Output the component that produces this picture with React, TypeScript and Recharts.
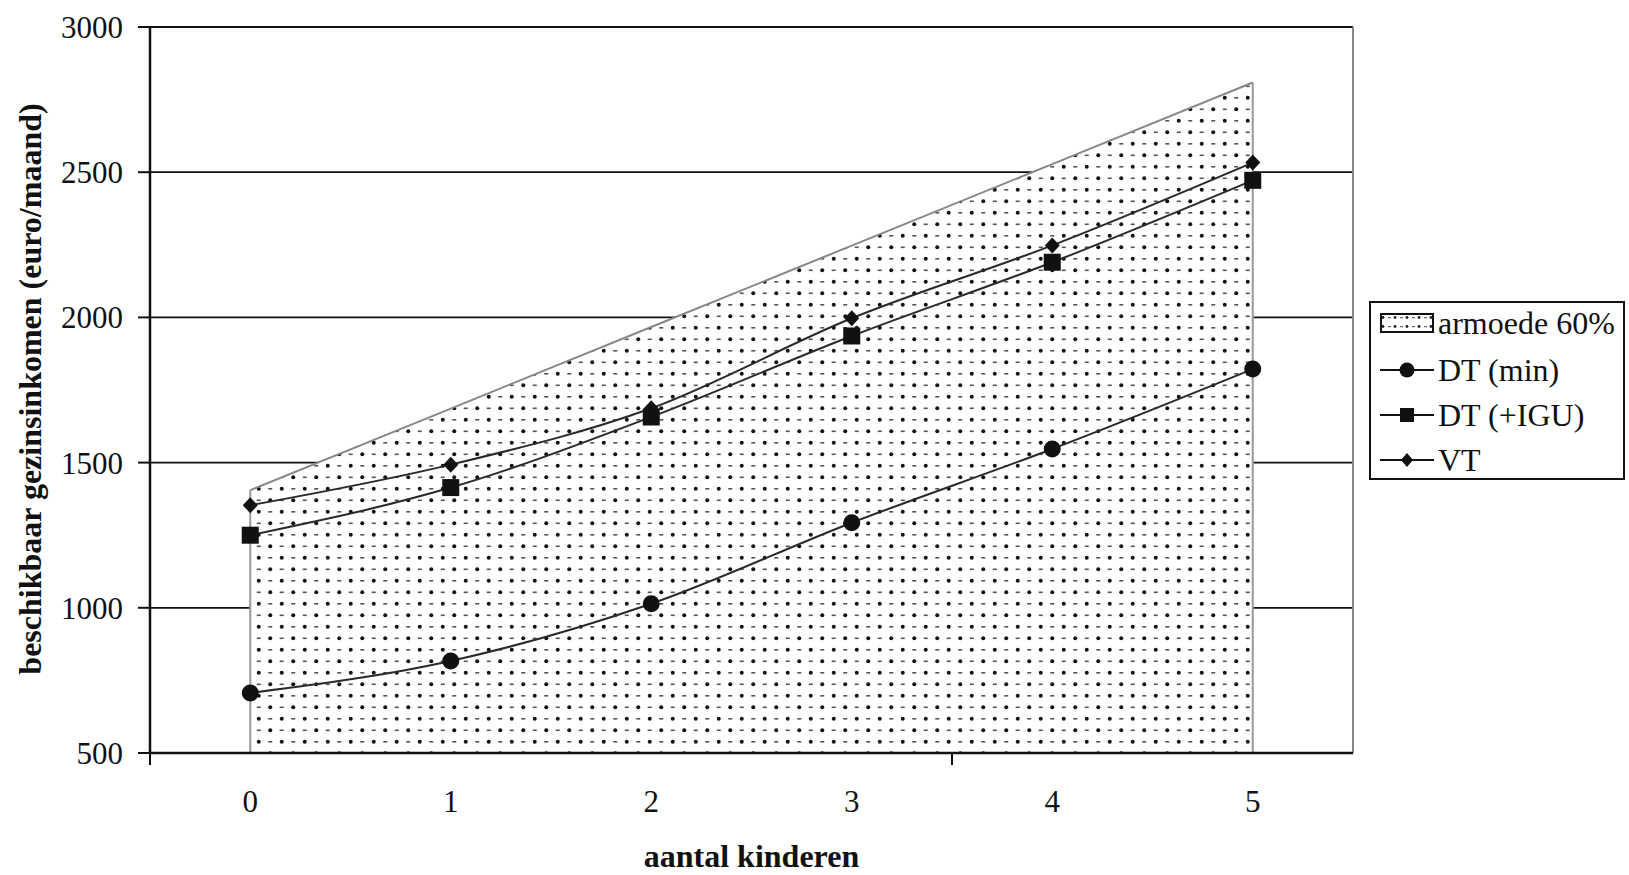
import React from 'react';
import { ComposedChart, Line, Area, XAxis, YAxis, CartesianGrid, ReferenceLine, Label } from 'recharts';

const kinderen = [0, 1, 2, 3, 4, 5];
const armoede60 = [1405, 1686, 1967, 2247, 2528, 2809];
const dtMin = [707, 817, 1014, 1293, 1547, 1822];
const dtIgu = [1250, 1414, 1657, 1936, 2190, 2472];
const vt = [1353, 1493, 1687, 1997, 2248, 2533];
const yTicks = [500, 1000, 1500, 2000, 2500, 3000];
const xDomain = [-0.5, 5.5];
const xTickMarks = [-0.5, 3.5];
const seriesNames = ['armoede 60%', 'DT (min)', 'DT (+IGU)', 'VT'];
const xTitle = 'aantal kinderen';
const yTitle = 'beschikbaar gezinsinkomen (euro/maand)';

const data = kinderen.map((k, i) => ({
  k,
  armoede: armoede60[i],
  dtMin: dtMin[i],
  dtIgu: dtIgu[i],
  vt: vt[i],
}));

const FONT = '"Liberation Serif", "Times New Roman", serif';
const LINE = '#2a2a2a';

const XTick = (props: any) => {
  const { x, y, payload } = props;
  const v = payload.value;
  if (xTickMarks.includes(v)) {
    return <line x1={x} x2={x} y1={y} y2={y + 12} stroke="#111" strokeWidth={2} />;
  }
  return (
    <text x={x} y={y + 59} textAnchor="middle" fontFamily={FONT} fontSize={31} fill="#111">
      {v}
    </text>
  );
};

const CircleDot = (props: any) => {
  const { cx, cy } = props;
  if (cx == null || cy == null) return null;
  return <circle cx={cx} cy={cy} r={8.5} fill="#111" />;
};
const SquareDot = (props: any) => {
  const { cx, cy } = props;
  if (cx == null || cy == null) return null;
  return <rect x={cx - 8.5} y={cy - 8.5} width={17} height={17} fill="#111" />;
};
const DiamondDot = (props: any) => {
  const { cx, cy } = props;
  if (cx == null || cy == null) return null;
  return <polygon points={`${cx},${cy - 8} ${cx + 7.5},${cy} ${cx},${cy + 8} ${cx - 7.5},${cy}`} fill="#111" />;
};

const DotPattern = ({ id }: { id: string }) => (
  <pattern id={id} patternUnits="userSpaceOnUse" width={23} height={23}>
    <rect x={0} y={0} width={23} height={23} fill="#fff" />
    <circle cx={5.75} cy={5.75} r={2} fill="#111" />
    <circle cx={17.25} cy={17.25} r={2} fill="#111" />
    <rect x={15.25} y={5} width={4} height={1.6} fill="#555" />
    <rect x={3.75} y={16.5} width={4} height={1.6} fill="#555" />
  </pattern>
);

const YTitle = (props: any) => {
  const vb = props.viewBox || { x: 0, y: 27, width: 150, height: 726 };
  const cx = vb.x + 41;
  const cy = vb.y + vb.height / 2 - 1;
  return (
    <text x={cx} y={cy} transform={`rotate(-90, ${cx}, ${cy})`} textAnchor="middle" fontFamily={FONT} fontWeight="bold" fontSize={32} fill="#111">
      {yTitle}
    </text>
  );
};

const XTitle = (props: any) => {
  const vb = props.viewBox || { x: 150, y: 753, width: 1203, height: 122 };
  return (
    <text x={vb.x + vb.width / 2} y={vb.y + 114} textAnchor="middle" fontFamily={FONT} fontWeight="bold" fontSize={32} fill="#111">
      {xTitle}
    </text>
  );
};

const legendMarkers = [null, 'circle', 'square', 'diamond'];
const legendCenters = [20, 67, 112, 157];

const LegendIcon = ({ kind }: { kind: string | null }) => {
  if (kind === null) {
    return (
      <svg width={54} height={20} style={{ position: 'absolute', left: 0, top: -10 }}>
        <defs>
          <pattern id="legdots" patternUnits="userSpaceOnUse" width={12} height={9}>
            <rect width={12} height={9} fill="#fff" />
            <circle cx={3} cy={4.5} r={1.4} fill="#222" />
            <rect x={8} y={4} width={3} height={1.2} fill="#666" />
          </pattern>
        </defs>
        <rect x={1} y={1} width={52} height={18} fill="url(#legdots)" stroke="#111" strokeWidth={2} />
      </svg>
    );
  }
  return (
    <svg width={54} height={20} style={{ position: 'absolute', left: 0, top: -10 }}>
      <line x1={0} x2={54} y1={10} y2={10} stroke="#111" strokeWidth={2} />
      {kind === 'circle' && <circle cx={27} cy={10} r={7.5} fill="#111" />}
      {kind === 'square' && <rect x={20} y={3} width={14} height={14} fill="#111" />}
      {kind === 'diamond' && <polygon points="27,3 33,10 27,17 21,10" fill="#111" />}
    </svg>
  );
};

const LegendBox = () => (
  <div
    style={{
      position: 'absolute',
      left: 1369,
      top: 301,
      width: 256,
      height: 179,
      border: '2px solid #111',
      boxSizing: 'border-box',
      background: '#fff',
      fontFamily: FONT,
      fontSize: 32,
      color: '#111',
    }}
  >
    {seriesNames.map((name, i) => (
      <div key={name} style={{ position: 'absolute', left: 9, top: legendCenters[i], height: 0 }}>
        <LegendIcon kind={legendMarkers[i]} />
        <div style={{ position: 'absolute', left: 58, top: -20, height: 40, lineHeight: '40px', whiteSpace: 'nowrap' }}>{name}</div>
      </div>
    ))}
  </div>
);

export default function App() {
  return (
    <div style={{ position: 'absolute', left: 0, top: 0, width: 1629, height: 875, background: '#fff' }}>
      <ComposedChart width={1629} height={875} data={data} margin={{ top: 27, right: 276, bottom: 0, left: 0 }}>
        <defs>
          <DotPattern id="dots" />
        </defs>
        <CartesianGrid vertical={false} stroke="#111" strokeWidth={1.8} />
        <XAxis
          dataKey="k"
          type="number"
          domain={xDomain}
          ticks={[...xTickMarks, ...kinderen]}
          allowDataOverflow
          height={122}
          tickSize={0}
          tickMargin={0}
          tickLine={false}
          axisLine={{ stroke: '#111', strokeWidth: 2.5 }}
          tick={<XTick />}
          interval={0}
        >
          <Label content={<XTitle />} />
        </XAxis>
        <YAxis
          type="number"
          domain={[yTicks[0], yTicks[yTicks.length - 1]]}
          ticks={yTicks}
          width={150}
          tickSize={12}
          tickMargin={15}
          interval={0}
          axisLine={{ stroke: '#111', strokeWidth: 2.5 }}
          tickLine={{ stroke: '#111', strokeWidth: 2 }}
          tick={{ fill: '#111', fontSize: 31, fontFamily: FONT }}
        >
          <Label content={<YTitle />} />
        </YAxis>
        <ReferenceLine x={xDomain[1]} stroke="#888" strokeWidth={2} />
        <Area
          type="linear"
          dataKey="armoede"
          baseValue={yTicks[0]}
          fill="url(#dots)"
          fillOpacity={1}
          stroke="#888"
          strokeWidth={2}
          isAnimationActive={false}
          dot={false}
          activeDot={false}
        />
        <ReferenceLine
          segment={[{ x: kinderen[0], y: yTicks[0] }, { x: kinderen[0], y: armoede60[0] }]}
          stroke="#999"
          strokeWidth={2}
        />
        <ReferenceLine
          segment={[{ x: kinderen[kinderen.length - 1], y: yTicks[0] }, { x: kinderen[kinderen.length - 1], y: armoede60[armoede60.length - 1] }]}
          stroke="#999"
          strokeWidth={2}
        />
        <Line type="monotone" dataKey="dtMin" stroke={LINE} strokeWidth={2} dot={<CircleDot />} activeDot={false} isAnimationActive={false} />
        <Line type="monotone" dataKey="dtIgu" stroke={LINE} strokeWidth={2} dot={<SquareDot />} activeDot={false} isAnimationActive={false} />
        <Line type="monotone" dataKey="vt" stroke={LINE} strokeWidth={2} dot={<DiamondDot />} activeDot={false} isAnimationActive={false} />
      </ComposedChart>
      <LegendBox />
    </div>
  );
}
